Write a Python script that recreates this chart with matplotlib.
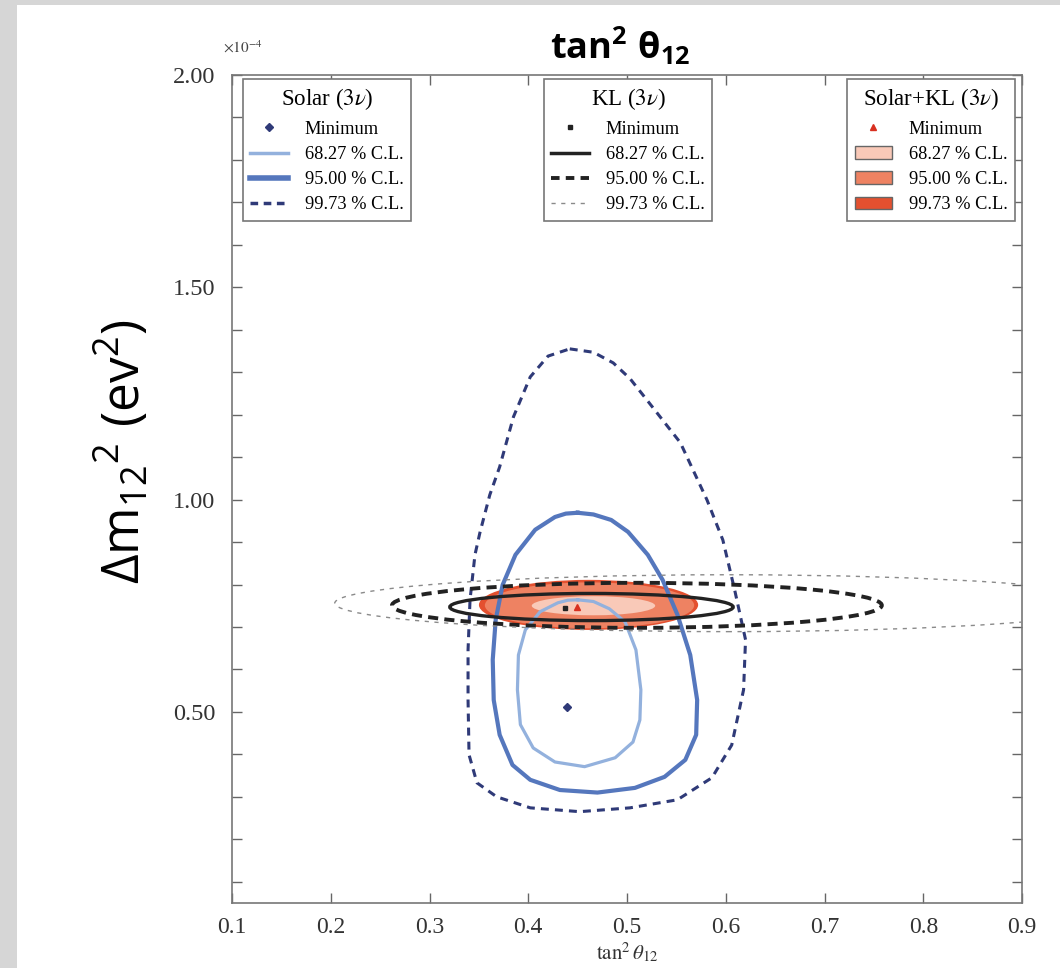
import matplotlib
matplotlib.use("Agg")
import numpy as np
import matplotlib.pyplot as plt
from matplotlib.patches import Ellipse, Rectangle, Patch
from matplotlib.lines import Line2D
from matplotlib.ticker import MultipleLocator, FormatStrFormatter
from matplotlib.font_manager import FontProperties

plt.rcParams['mathtext.fontset'] = 'custom'
plt.rcParams['mathtext.rm'] = 'Open Sans'
plt.rcParams['mathtext.it'] = 'Open Sans:italic'
plt.rcParams['mathtext.bf'] = 'Open Sans:bold'
plt.rcParams['font.family'] = ['Liberation Serif', 'DejaVu Serif']

# ---------------- data (tan^2 theta12, dm^2 in 1e-4 eV^2) ----------------
solar99_x = [0.442, 0.466, 0.486, 0.503, 0.520, 0.554, 0.581, 0.597, 0.609, 0.620,
             0.618, 0.606, 0.586, 0.551, 0.503, 0.452, 0.402, 0.368, 0.348, 0.340,
             0.339, 0.339, 0.341, 0.346, 0.351, 0.361, 0.371, 0.385, 0.402, 0.420]
solar99_y = [1.355, 1.347, 1.322, 1.285, 1.235, 1.134, 0.999, 0.905, 0.787, 0.670,
             0.552, 0.422, 0.345, 0.293, 0.274, 0.265, 0.274, 0.300, 0.333, 0.399,
             0.528, 0.646, 0.764, 0.870, 0.922, 1.011, 1.077, 1.195, 1.289, 1.338]

solar95_x = [0.450, 0.466, 0.484, 0.501, 0.521, 0.536, 0.551, 0.564, 0.571, 0.570,
             0.559, 0.538, 0.508, 0.470, 0.432, 0.402, 0.384, 0.371, 0.365, 0.364,
             0.367, 0.374, 0.387, 0.407, 0.427, 0.438]
solar95_y = [0.969, 0.965, 0.952, 0.924, 0.870, 0.811, 0.729, 0.634, 0.528, 0.446,
             0.387, 0.347, 0.321, 0.310, 0.316, 0.340, 0.375, 0.446, 0.528, 0.623,
             0.717, 0.799, 0.870, 0.929, 0.959, 0.967]

solar68_x = [0.450, 0.466, 0.482, 0.498, 0.509, 0.514, 0.513, 0.506, 0.488, 0.457,
             0.427, 0.405, 0.392, 0.389, 0.390, 0.397, 0.412, 0.430, 0.440]
solar68_y = [0.764, 0.760, 0.743, 0.712, 0.646, 0.552, 0.481, 0.429, 0.392, 0.371,
             0.382, 0.415, 0.470, 0.552, 0.634, 0.693, 0.736, 0.757, 0.763]

solar_min_x, solar_min_y = 0.439, 0.512

# KL contours (68.27, 95.00, 99.73): centre, full width, full height
kl_cx = [0.464, 0.510, 0.602]
kl_cy = [0.747, 0.751, 0.756]
kl_w = [0.287, 0.496, 0.796]
kl_h = [0.064, 0.106, 0.134]
kl_min_x, kl_min_y = 0.437, 0.745

# Solar+KL regions (99.73, 95.00, 68.27)
comb_cx = [0.461, 0.462, 0.466]
comb_cy = [0.752, 0.751, 0.750]
comb_w = [0.222, 0.212, 0.125]
comb_h = [0.118, 0.108, 0.045]
comb_min_x, comb_min_y = 0.449, 0.746

cl_labels = ['68.27 % C.L.', '95.00 % C.L.', '99.73 % C.L.']
x_ticks = [0.1, 0.2, 0.3, 0.4, 0.5, 0.6, 0.7, 0.8, 0.9]
y_ticks = [0.5, 1.0, 1.5, 2.0]

# ---------------- style ----------------
c_light = '#93b1dd'
c_med = '#5577bd'
c_navy = '#2f3a78'
c_red = ['#e4502f', '#ee8262', '#f9c9b8']

fig = plt.figure(figsize=(10.6, 9.68), dpi=100)
fig.patch.set_facecolor('#d6d6d6')
fig.add_artist(Rectangle((17 / 1060, 0), 1 - 17 / 1060, 963 / 968,
                         transform=fig.transFigure, facecolor='white',
                         edgecolor='none', zorder=0))

ax = fig.add_axes([0.2189, 0.0672, 0.7453, 0.8553])
ax.set_facecolor('white')

# combined filled regions
for cx, cy, w, h, col in zip(comb_cx, comb_cy, comb_w, comb_h, c_red):
    ax.add_patch(Ellipse((cx, cy), w, h, facecolor=col, edgecolor='none', zorder=1))

def closed(a):
    return np.append(a, a[0])

ax.plot(closed(solar68_x), closed(solar68_y), color=c_light, lw=2.3, zorder=3,
        solid_joinstyle='round')
ax.plot(closed(solar95_x), closed(solar95_y), color=c_med, lw=3.0, zorder=3,
        solid_joinstyle='round')
ax.plot(closed(solar99_x), closed(solar99_y), color=c_navy, lw=2.2,
        linestyle=(0, (2.6, 2.0)), zorder=3)

kl_styles = [dict(color='#222222', lw=2.4, linestyle='-'),
             dict(color='#222222', lw=2.8, linestyle=(0, (2.6, 1.6))),
             dict(color='#8a8a8a', lw=1.0, linestyle=(0, (3, 4)))]
for cx, cy, w, h, st in zip(kl_cx, kl_cy, kl_w, kl_h, kl_styles):
    ax.add_patch(Ellipse((cx, cy), w, h, fill=False, zorder=4, **st))

ax.plot([solar_min_x], [solar_min_y], marker='D', color=c_navy, ms=4, ls='none', zorder=5)
ax.plot([kl_min_x], [kl_min_y], marker='s', color='#222222', ms=3.5, ls='none', zorder=5)
ax.plot([comb_min_x], [comb_min_y], marker='^', color='#d83020', ms=5, ls='none', zorder=5)

# axes
ax.set_xlim(0.1, 0.9)
ax.set_ylim(0.05, 2.0)
ax.set_xticks(x_ticks)
ax.set_yticks(y_ticks)
ax.yaxis.set_minor_locator(MultipleLocator(0.1))
ax.xaxis.set_major_formatter(FormatStrFormatter('%.1f'))
ax.yaxis.set_major_formatter(FormatStrFormatter('%.2f'))
ax.tick_params(which='both', direction='in', top=True, right=True,
               length=7, width=1, color='#666666')
ax.tick_params(axis='x', which='major', labelsize=17, pad=10, labelcolor='#333333')
ax.tick_params(axis='y', which='major', labelsize=17.5, pad=12, labelcolor='#333333')
for s in ax.spines.values():
    s.set_color('#777777')
    s.set_linewidth(1.2)

ax.set_xlabel(r'$\mathrm{tan}^2\,\theta_{12}$', fontsize=15, labelpad=2,
              math_fontfamily='stix', color='#333333')
ax.text(-0.012, 1.033, r'$\times10^{-4}$', transform=ax.transAxes, fontsize=11,
        math_fontfamily='stix', ha='left', va='center', color='#444444')

# legends
leg_kw = dict(frameon=True, fancybox=False, framealpha=1, edgecolor='#777777',
              borderpad=0.4, labelspacing=0.45, handlelength=2.05, handletextpad=0.9,
              borderaxespad=0, prop=FontProperties(family='Liberation Serif', size=13.2),
              title_fontproperties=FontProperties(family='Liberation Serif', size=16.5))

h1 = [Line2D([], [], marker='D', color=c_navy, ms=4, ls='none'),
      Line2D([], [], color=c_light, lw=2.5),
      Line2D([], [], color=c_med, lw=4),
      Line2D([], [], color=c_navy, lw=2.5, linestyle=(0, (2.2, 1.6)))]
leg1 = ax.legend(handles=h1, labels=['Minimum'] + cl_labels, title=r'Solar ($3\nu$)',
                 loc='upper left', bbox_to_anchor=(0.014, 0.995), **leg_kw)
leg1.get_title().set_math_fontfamily('stix')
leg1.get_frame().set_linewidth(1.2)
ax.add_artist(leg1)

h2 = [Line2D([], [], marker='s', color='#222222', ms=3.5, ls='none'),
      Line2D([], [], color='#222222', lw=2.5),
      Line2D([], [], color='#222222', lw=2.8, linestyle=(0, (2.2, 1.6))),
      Line2D([], [], color='#8a8a8a', lw=1.0, linestyle=(0, (3, 4)))]
leg2 = ax.legend(handles=h2, labels=['Minimum'] + cl_labels, title=r'KL ($3\nu$)',
                 loc='upper left', bbox_to_anchor=(0.395, 0.995), **leg_kw)
leg2.get_title().set_math_fontfamily('stix')
leg2.get_frame().set_linewidth(1.2)
ax.add_artist(leg2)

h3 = [Line2D([], [], marker='^', color='#d83020', ms=5, ls='none'),
      Patch(facecolor=c_red[2], edgecolor='#666666'),
      Patch(facecolor=c_red[1], edgecolor='#666666'),
      Patch(facecolor=c_red[0], edgecolor='#666666')]
leg3 = ax.legend(handles=h3, labels=['Minimum'] + cl_labels, title=r'Solar+KL ($3\nu$)',
                 loc='upper right', bbox_to_anchor=(0.991, 0.995), **leg_kw)
leg3.get_title().set_math_fontfamily('stix')
leg3.get_frame().set_linewidth(1.2)

# title and y label (presentation style)
fig.text(0.585, 0.953, r'$\mathbf{tan^2\ \theta_{12}}$', ha='center', va='center',
         fontsize=26, math_fontfamily='custom', color='black')
fig.text(0.114, 0.534, r'$\Delta\mathrm{m}_{12}{}^{2}\ \mathrm{(ev^{2})}$', rotation=90,
         ha='center', va='center', fontsize=37, math_fontfamily='custom', color='black')

fig.savefig('out.png', dpi=100, facecolor=fig.get_facecolor())
